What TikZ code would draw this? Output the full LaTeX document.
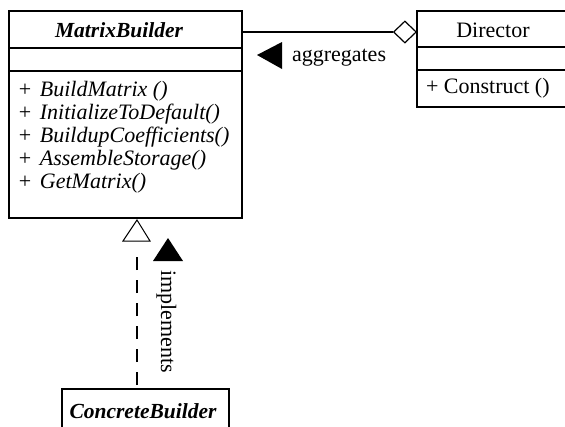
\documentclass[tikz,border=0pt]{standalone}
\usepackage{fontspec}
\setmainfont{Liberation Serif}
\usetikzlibrary{shapes.geometric}
\begin{document}
\begin{tikzpicture}[x=1pt,y=-1pt,line width=1.2pt,
  umlbox/.style={draw,rectangle,inner sep=0pt,outer sep=0pt,anchor=north west},
  lbl/.style={inner sep=0pt,outer sep=0pt,font=\fontsize{22}{23}\selectfont},
  ttl/.style={lbl,font=\fontsize{21.5}{23}\selectfont\bfseries\itshape},
  meth/.style={inner sep=0pt,outer sep=0pt,anchor=base west,font=\fontsize{22}{23}\selectfont},
  dashpat/.style={dash pattern=on 13pt off 10pt,dash phase=19pt}]
\useasboundingbox (0,0) rectangle (565,426);
\clip (0,0) rectangle (565,426);
% MatrixBuilder
\node[umlbox,minimum width=233pt,minimum height=207pt] (mb) at (9,11) {};
\draw (9,48) -- (242,48);
\draw (9,71) -- (242,71);
\node[ttl,anchor=base] (mbt) at (119,37) {MatrixBuilder};
\node[meth] (m1) at (19,96) {+\hspace{8.5pt}\textit{BuildMatrix ()}};
\node[meth] (m2) at (19,119) {+\hspace{8.5pt}\textit{InitializeToDefault()}};
\node[meth] (m3) at (19,142) {+\hspace{8.5pt}\textit{BuildupCoefficients()}};
\node[meth] (m4) at (19,165) {+\hspace{8.5pt}\textit{AssembleStorage()}};
\node[meth] (m5) at (19,188) {+\hspace{8.5pt}\textit{GetMatrix()}};
% Director
\node[umlbox,minimum width=170pt,minimum height=96pt] (dir) at (417,11) {};
\draw (417,47) -- (590,47);
\draw (417,70) -- (590,70);
\node[lbl,anchor=base] (dirt) at (493,37) {Director};
\node[meth] (d1) at (426,93) {+ Construct ()};
% ConcreteBuilder
\node[umlbox,minimum width=167pt,minimum height=60pt] (cb) at (62,389) {};
\node[ttl,anchor=base] (cbt) at (143,418) {ConcreteBuilder};
% aggregation
\node[draw,diamond,inner sep=0pt,minimum width=23pt,minimum height=22pt,anchor=east,fill=white] (dia) at (417,32) {};
\draw (dia.west) -- (dia.west -| mb.east);
\fill (257,55) -- (282,42) -- (282,69) -- cycle;
\node[lbl,anchor=base west] (agg) at (292,61) {aggregates};
% realization
\coordinate (itip) at (137,220);
\coordinate (ibase) at (137,241);
\draw[fill=white,line width=1pt] (itip) -- (150,241) -- (123,241) -- cycle;
\draw[dashpat,shorten >=6pt] (itip |- cb.north) -- (ibase);
\fill (168,238) -- (183,261) -- (153,261) -- cycle;
\node[lbl,rotate=-90,anchor=base west] (impl) at (161,270) {implements};
\end{tikzpicture}
\end{document}
